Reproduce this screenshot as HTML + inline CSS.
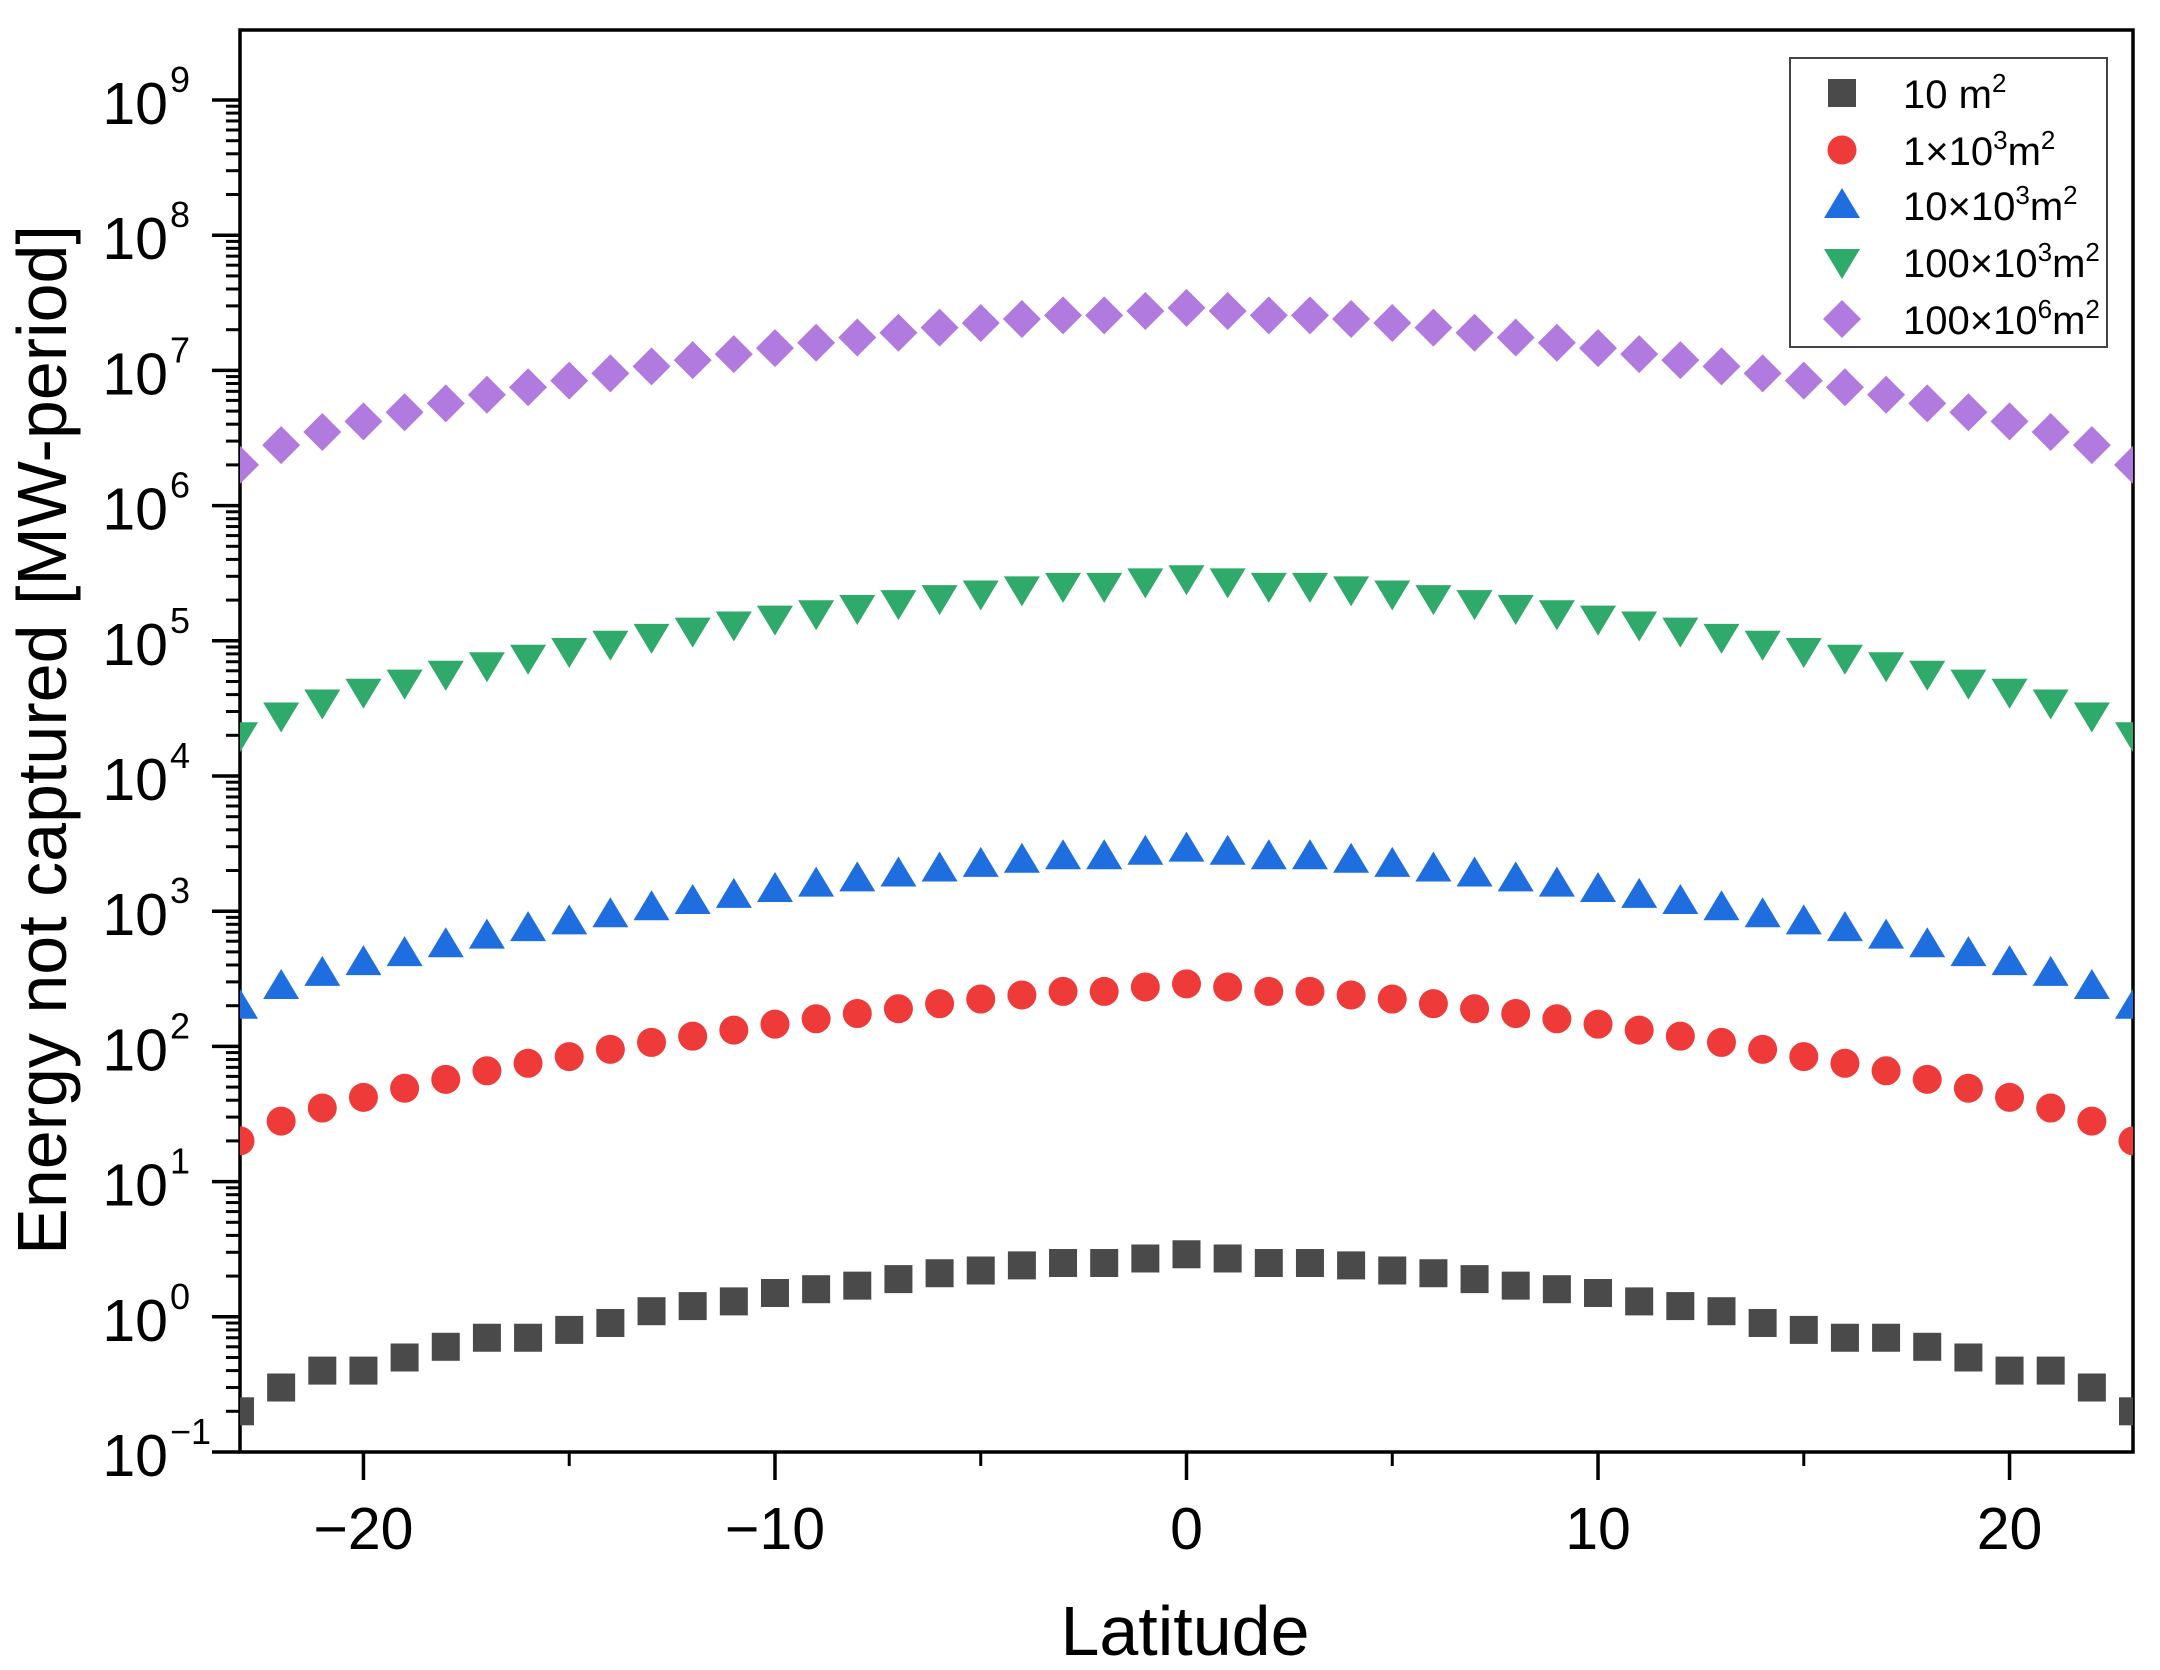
<!DOCTYPE html>
<html><head><meta charset="utf-8"><style>
html,body{margin:0;padding:0;background:#fff;}
svg{display:block;font-family:"Liberation Sans",Arial,sans-serif;}
</style></head><body>
<svg id="chart" width="2160" height="1670" viewBox="0 0 2160 1670" xmlns="http://www.w3.org/2000/svg">
<rect x="0" y="0" width="2160" height="1670" fill="#fff"/>
<g id="grid-axes"></g>
<g id="marks"></g>
<text x="0" y="0" transform="translate(66,740) rotate(-90)" text-anchor="middle" font-size="70" fill="#000">Energy not captured [MW-period]</text>
<text x="1185" y="1655" text-anchor="middle" font-size="70" fill="#000">Latitude</text>
<g id="legend"></g>
</svg>
<script>
const latitudes = [-23,-22,-21,-20,-19,-18,-17,-16,-15,-14,-13,-12,-11,-10,-9,-8,-7,-6,-5,-4,-3,-2,-1,0,1,2,3,4,5,6,7,8,9,10,11,12,13,14,15,16,17,18,19,20,21,22,23];
const s10 = [0.2,0.3,0.4,0.4,0.5,0.6,0.7,0.7,0.8,0.9,1.1,1.2,1.3,1.5,1.6,1.7,1.9,2.1,2.2,2.4,2.5,2.5,2.7,2.9,2.7,2.5,2.5,2.4,2.2,2.1,1.9,1.7,1.6,1.5,1.3,1.2,1.1,0.9,0.8,0.7,0.7,0.6,0.5,0.4,0.4,0.3,0.2];
const s1e3 = [20,28,35,42,49,57,66,75,84,95,107,119,132,146,160,175,190,207,224,240,255,255,275,290,275,255,255,240,224,207,190,175,160,146,132,119,107,95,84,75,66,57,49,42,35,28,20];
const s10e3 = [200,280,350,420,490,570,660,750,840,950,1070,1190,1320,1460,1600,1750,1900,2070,2240,2400,2550,2550,2750,2900,2750,2550,2550,2400,2240,2070,1900,1750,1600,1460,1320,1190,1070,950,840,750,660,570,490,420,350,280,200];
const s100e3 = [2.0e4,2.8e4,3.5e4,4.2e4,4.9e4,5.7e4,6.6e4,7.5e4,8.4e4,9.5e4,1.07e5,1.19e5,1.32e5,1.46e5,1.6e5,1.75e5,1.9e5,2.07e5,2.24e5,2.4e5,2.55e5,2.55e5,2.75e5,2.9e5,2.75e5,2.55e5,2.55e5,2.4e5,2.24e5,2.07e5,1.9e5,1.75e5,1.6e5,1.46e5,1.32e5,1.19e5,1.07e5,9.5e4,8.4e4,7.5e4,6.6e4,5.7e4,4.9e4,4.2e4,3.5e4,2.8e4,2.0e4];
const s100e6 = [2.0e6,2.8e6,3.5e6,4.2e6,4.9e6,5.7e6,6.6e6,7.5e6,8.4e6,9.5e6,1.07e7,1.19e7,1.32e7,1.46e7,1.6e7,1.75e7,1.9e7,2.07e7,2.24e7,2.4e7,2.55e7,2.55e7,2.75e7,2.9e7,2.75e7,2.55e7,2.55e7,2.4e7,2.24e7,2.07e7,1.9e7,1.75e7,1.6e7,1.46e7,1.32e7,1.19e7,1.07e7,9.5e6,8.4e6,7.5e6,6.6e6,5.7e6,4.9e6,4.2e6,3.5e6,2.8e6,2.0e6];
const xTicks = [-20,-10,0,10,20];
const xTickLabels = ["\u221220","\u221210","0","10","20"];
const xMinorTicks = [-15,-5,5,15];
const yExponents = [-1,0,1,2,3,4,5,6,7,8,9];
const legendLabels = [["10 m","2",""],["1\u00d710","3","m\u00b2"],["10\u00d710","3","m\u00b2"],["100\u00d710","3","m\u00b2"],["100\u00d710","6","m\u00b2"]];

const NS = "http://www.w3.org/2000/svg";
const L = 240, R = 2133, T = 30, B = 1452;
const xMin = -23, xMax = 23, yLogMin = -1, decadePx = 135.2;
function xs(v){ return L + (v - xMin) / (xMax - xMin) * (R - L); }
function ys(v){ return B - (Math.log10(v) - yLogMin) * decadePx; }
function mk(tag, attrs, parent){ const e = document.createElementNS(NS, tag); for (const k in attrs) e.setAttribute(k, attrs[k]); parent.appendChild(e); return e; }

const ax = document.getElementById('grid-axes');
const frame = mk('rect', {x:L, y:T, width:R-L, height:B-T, fill:'none', stroke:'#000', 'stroke-width':3.5}, ax);



xTicks.forEach((t, i) => {
  const x = xs(t);
  const tk = mk('line', {x1:x, x2:x, y1:B, y2:B+28, stroke:'#000', 'stroke-width':3.5}, ax);
  
  
  const lb = mk('text', {x:x, y:B+97, 'text-anchor':'middle', 'font-size':59, fill:'#000'}, ax);
  lb.textContent = xTickLabels[i];
  
  
});
xMinorTicks.forEach(t => {
  const x = xs(t);
  const tk = mk('line', {x1:x, x2:x, y1:B, y2:B+14, stroke:'#000', 'stroke-width':3}, ax);
  
  
});
yExponents.forEach(e => {
  const y = ys(Math.pow(10, e));
  const tk = mk('line', {x1:L-28, x2:L, y1:y, y2:y, stroke:'#000', 'stroke-width':3.5}, ax);
  
  
  const lb = mk('text', {x:168, y:y+24, 'text-anchor':'end', 'font-size':59, fill:'#000'}, ax);
  lb.textContent = '10';
  
  
  const sp = mk('text', {x:170, y:y-8, 'text-anchor':'start', 'font-size':36, fill:'#000'}, ax);
  sp.textContent = e < 0 ? '\u22121' : String(e);
  
  
  if (e < 9) {
    for (let m = 2; m <= 9; m++) {
      const yy = ys(m * Math.pow(10, e));
      const mt = mk('line', {x1:L-14, x2:L, y1:yy, y2:yy, stroke:'#000', 'stroke-width':3}, ax);
      
      
    }
  }
});

function drawMarker(parent, shape, cx, cy, color){
  let el;
  if (shape === 'square') el = mk('rect', {x:cx-14, y:cy-14, width:28, height:28, fill:color}, parent);
  else if (shape === 'circle') el = mk('circle', {cx:cx, cy:cy, r:14.5, fill:color}, parent);
  else if (shape === 'up') el = mk('polygon', {points:`${cx},${cy-17} ${cx+18},${cy+13} ${cx-18},${cy+13}`, fill:color}, parent);
  else if (shape === 'down') el = mk('polygon', {points:`${cx},${cy+17} ${cx+18},${cy-13} ${cx-18},${cy-13}`, fill:color}, parent);
  else el = mk('polygon', {points:`${cx},${cy-19} ${cx+19},${cy} ${cx},${cy+19} ${cx-19},${cy}`, fill:color}, parent);
  return el;
}

const seriesList = [
  {vals:s10, shape:'square', color:'#4a4a4a', name:'series-10m2'},
  {vals:s1e3, shape:'circle', color:'#ef3a3a', name:'series-1e3m2'},
  {vals:s10e3, shape:'up', color:'#1f6ee0', name:'series-10e3m2'},
  {vals:s100e3, shape:'down', color:'#2faa6b', name:'series-100e3m2'},
  {vals:s100e6, shape:'diamond', color:'#b07adf', name:'series-100e6m2'}
];
const marks = document.getElementById('marks');
const clip = mk('clipPath', {id:'pc'}, marks);
mk('rect', {x:L, y:T, width:R-L, height:B-T}, clip);
seriesList.forEach(s => {
  const g = mk('g', {'clip-path':'url(#pc)'}, marks);
  
  
  s.vals.forEach((v, i) => {
    const m = drawMarker(g, s.shape, xs(latitudes[i]), ys(v), s.color);
    
    
  });
});

const lg = document.getElementById('legend');
mk('rect', {x:1790, y:58, width:317, height:289, fill:'#fff', stroke:'#444', 'stroke-width':2}, lg);
const legY = [93, 150, 205, 262, 319];
seriesList.forEach((s, i) => {
  const m = drawMarker(lg, s.shape, 1842, legY[i], s.color);
  
  
  const t = mk('text', {x:1903, y:legY[i]+15, 'font-size':40, fill:'#000'}, lg);
  
  
  const lab = legendLabels[i];
  const a = mk('tspan', {}, t); a.textContent = lab[0];
  const b = mk('tspan', {dy:-16, 'font-size':26}, t); b.textContent = lab[1];
  if (lab[2]) {
    const c = mk('tspan', {dy:16}, t); c.textContent = 'm';
    const d = mk('tspan', {dy:-16, 'font-size':26}, t); d.textContent = '2';
  }
});
</script>
</body></html>
